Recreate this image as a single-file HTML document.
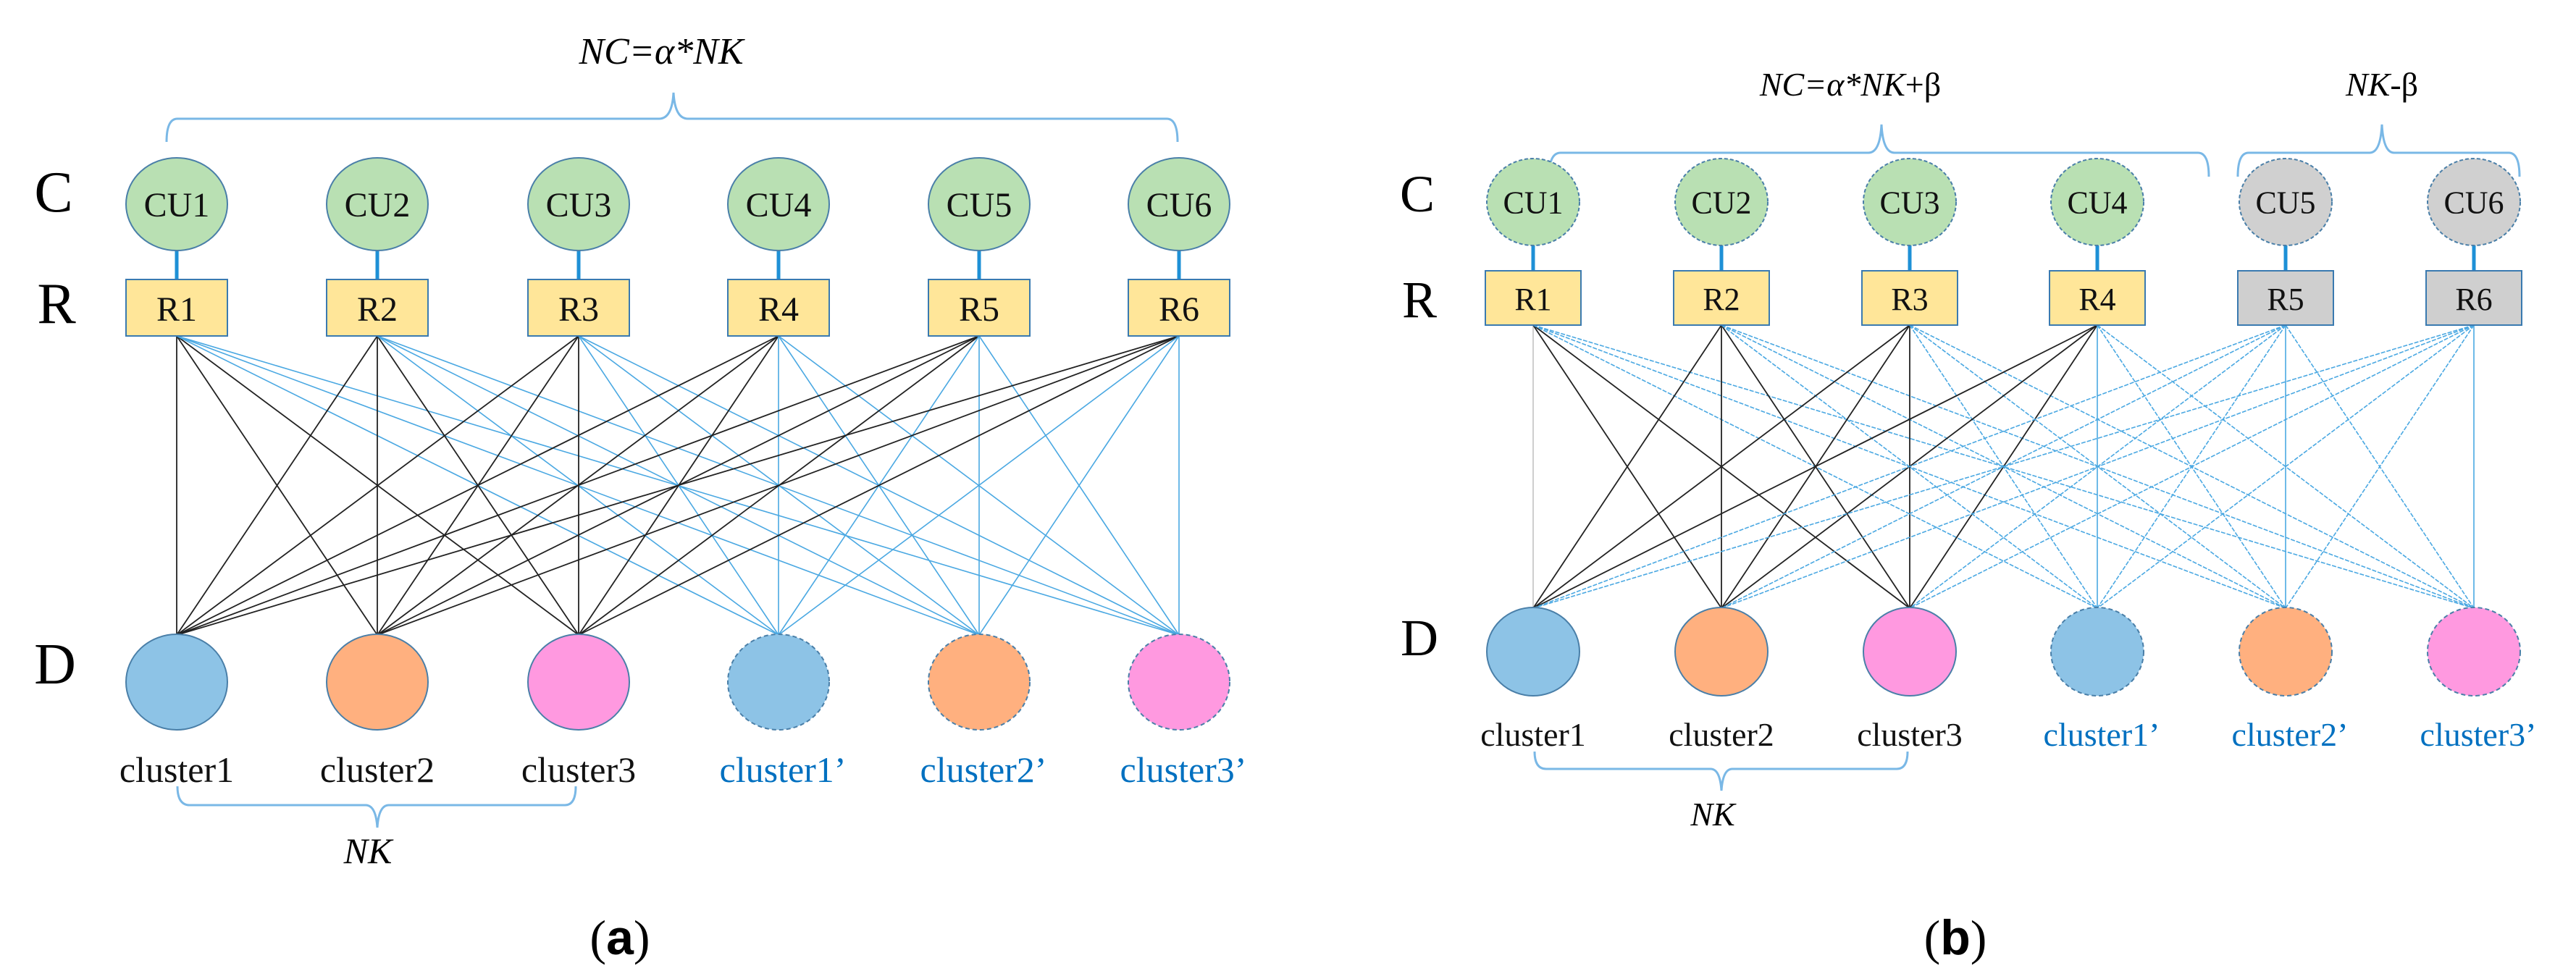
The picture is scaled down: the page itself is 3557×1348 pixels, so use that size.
<!DOCTYPE html>
<html><head><meta charset="utf-8"><style>
html,body{margin:0;padding:0;background:#fff}
svg{display:block}
svg text{font-family:"Liberation Serif","DejaVu Serif","Times New Roman",serif}
</style></head><body>
<svg id="s" width="3557" height="1348" viewBox="0 0 3557 1348" xmlns="http://www.w3.org/2000/svg" font-family="Liberation Serif, DejaVu Serif, serif">
<g id="lines"></g>
<!-- Panel a -->
<text x="913" y="88" font-size="52" font-style="italic" text-anchor="middle">NC=α*NK</text>
<path d="M230,196 Q230,164 245,164 L910,164 Q928,164 930,128 Q932,164 950,164 L1611,164 Q1626,164 1626,196" fill="none" stroke="#7ab8e6" stroke-width="3"/>
<text x="74" y="292" font-size="80" text-anchor="middle">C</text>
<text x="78" y="446" font-size="80" text-anchor="middle">R</text>
<text x="76" y="944" font-size="80" text-anchor="middle">D</text>
<g id="pa"></g>
<path d="M245,1086 Q245,1112 262,1112 L505,1112 Q519,1112 521,1143 Q523,1112 537,1112 L780,1112 Q795,1112 795,1086" fill="none" stroke="#7ab8e6" stroke-width="3"/>
<text x="508" y="1192" font-size="50" font-style="italic" text-anchor="middle">NK</text>
<text x="856" y="1318" font-size="68" text-anchor="middle">(<tspan font-family="Liberation Sans" font-weight="bold">a</tspan>)</text>
<!-- Panel b -->
<text x="2555" y="132" font-size="46" text-anchor="middle"><tspan font-style="italic">NC=α*NK</tspan>+β</text>
<text x="3289" y="132" font-size="46" text-anchor="middle"><tspan font-style="italic">NK</tspan>-β</text>
<path d="M2139,244 Q2139,211 2155,211 L2580,211 Q2596,211 2598,172 Q2600,211 2616,211 L3035,211 Q3050,211 3050,244" fill="none" stroke="#7ab8e6" stroke-width="3"/>
<path d="M3090,244 Q3090,211 3105,211 L3272,211 Q3287,211 3289,172 Q3291,211 3306,211 L3464,211 Q3479,211 3479,244" fill="none" stroke="#7ab8e6" stroke-width="3"/>
<text x="1957" y="292" font-size="72" text-anchor="middle">C</text>
<text x="1960" y="438" font-size="72" text-anchor="middle">R</text>
<text x="1960" y="905" font-size="72" text-anchor="middle">D</text>
<g id="pb"></g>
<path d="M2119,1038 Q2119,1062 2135,1062 L2362,1062 Q2375,1062 2377,1092 Q2379,1062 2392,1062 L2619,1062 Q2634,1062 2634,1038" fill="none" stroke="#7ab8e6" stroke-width="3"/>
<text x="2365" y="1140" font-size="46" font-style="italic" text-anchor="middle">NK</text>
<text x="2700" y="1318" font-size="68" text-anchor="middle">(<tspan font-family="Liberation Sans" font-weight="bold">b</tspan>)</text>
</svg>
<script>
var NS="http://www.w3.org/2000/svg";
function el(p,t,a,txt){var e=document.createElementNS(NS,t);for(var k in a)e.setAttribute(k,a[k]);if(txt!=null)e.textContent=txt;p.appendChild(e);return e;}
var L=document.getElementById('lines');
var fills=['#8dc3e6','#ffb07f','#ff99e0'];
var FF='Liberation Serif, DejaVu Serif, serif';
function panel(g,xs,o){
 for(var i=0;i<6;i++)for(var j=0;j<6;j++){
  var black=o.b? (i<4&&j<3):(j<3);
  var col=black?'#222':'#4aa8e2', w=black?1.8:1.6;
  if(o.b&&i==0&&j==0){col='#c8c8c8';}
  var a={x1:xs[i],y1:o.rb,x2:xs[j],y2:o.dt,stroke:col,'stroke-width':w};
  if(o.b&&!black&&!(i==j)) a['stroke-dasharray']='6 2';
  el(L,'line',a);
 }
 for(var i=0;i<6;i++){
  var gray=o.b&&i>=4;
  el(g,'line',{x1:xs[i],y1:o.cy+o.ry,x2:xs[i],y2:o.rt,stroke:'#1e90d6','stroke-width':5});
  var ca={cx:xs[i],cy:o.cy,rx:o.rx,ry:o.ry,fill:gray?'#d0d0d0':'#b9e0b3',stroke:'#4a7fa8','stroke-width':2};
  if(o.b)ca['stroke-dasharray']='5 3';
  el(g,'ellipse',ca);
  el(g,'text',{x:xs[i],y:o.cy+o.fs*0.35,'font-size':o.fs,'font-family':FF,'text-anchor':'middle',fill:'#111'},'CU'+(i+1));
  el(g,'rect',{x:xs[i]-o.rw/2,y:o.rt,width:o.rw,height:o.rh,fill:gray?'#cfcfcf':'#ffe699',stroke:'#3a7ab0','stroke-width':2});
  el(g,'text',{x:xs[i],y:o.rt+o.rh/2+o.fs*0.38,'font-size':o.fs,'font-family':FF,'text-anchor':'middle',fill:'#111'},'R'+(i+1));
  var da={cx:xs[i],cy:o.dcy,rx:o.rx,ry:o.dry,fill:fills[i%3],stroke:'#4a7fa8','stroke-width':2};
  if(i>=3)da['stroke-dasharray']='6 4';
  el(g,'ellipse',da);
  el(g,'text',{x:xs[i]+(i>=3?6:0),y:o.ly,'font-size':o.lfs,'font-family':FF,'text-anchor':'middle',fill:i>=3?'#0070c0':'#111'},'cluster'+(i%3+1)+(i>=3?'’':''));
 }
}
panel(document.getElementById('pa'),[244,521,799,1075,1352,1628],{cy:282,rx:70,ry:64,rt:386,rw:140,rh:78,rb:464,dt:877,dcy:942,dry:66,fs:48,ly:1080,lfs:50});
panel(document.getElementById('pb'),[2117,2377,2637,2896,3156,3416],{b:1,cy:279,rx:64,ry:60,rt:374,rw:132,rh:75,rb:449,dt:840,dcy:900,dry:61,fs:44,ly:1030,lfs:46});
</script>
</body></html>
